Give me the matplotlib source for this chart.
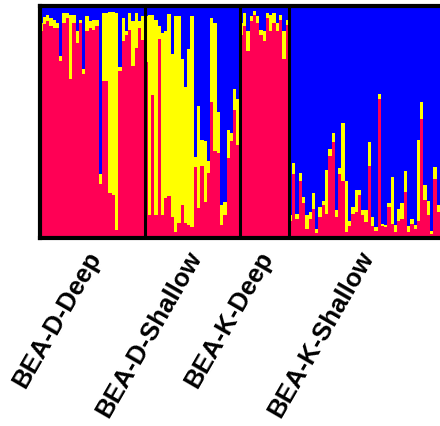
import matplotlib
matplotlib.use("Agg")
import matplotlib.pyplot as plt
import matplotlib.transforms as mtransforms
import numpy as np

plt.rcParams['font.family'] = ['Liberation Sans', 'DejaVu Sans']

# STRUCTURE ancestry proportions (%), one value per individual.
# red = 100 - blue - yellow
groups = ['BEA-D-Deep', 'BEA-D-Shallow', 'BEA-K-Deep', 'BEA-K-Shallow']

d_deep_blue = [7.5, 5.0, 4.0, 5.3, 6.2, 7.5, 21.6, 3.1, 3.1, 4.0, 4.0, 11.0, 6.2, 27.3, 4.4, 6.6,
               6.2, 6.2, 72.7, 3.1, 3.1, 2.6, 2.6, 3.1, 26.4, 5.3, 11.0, 3.1, 6.6, 3.1, 6.6, 4.4]
d_deep_yellow = [3.5, 3.0, 2.6, 3.5, 3.5, 2.2, 2.2, 4.4, 2.2, 27.8, 3.5, 5.3, 1.3, 2.2, 6.6, 3.1,
                 4.4, 2.6, 4.4, 29.5, 29.5, 78.4, 78.9, 93.8, 1.8, 10.1, 1.8, 7.5, 19.4, 15.4, 3.1, 10.6]

d_shallow_blue = [4.4, 4.0, 4.0, 6.2, 8.8, 11.9, 11.0, 3.5, 20.7, 4.4, 4.4, 22.9, 35.2, 18.9, 4.4,
                  65.2, 43.2, 58.1, 58.6, 67.0, 5.3, 7.5, 45.8, 85.9, 84.6, 53.7, 55.1, 36.1, 40.5]
d_shallow_yellow = [19.8, 86.3, 34.4, 84.1, 5.7, 78.4, 71.8, 78.4, 70.5, 93.4, 89.4, 63.0, 58.6, 75.8, 91.2,
                    4.4, 44.1, 11.0, 26.0, 5.3, 36.1, 55.1, 17.6, 8.8, 5.7, 11.9, 3.1, 8.8, 19.8]

k_deep_blue = [7.5, 3.1, 11.0, 4.4, 2.2, 4.4, 10.6, 11.0, 3.1, 4.0, 3.1, 7.5, 4.0, 11.0, 6.2]
k_deep_yellow = [5.3, 5.7, 8.4, 2.2, 1.8, 3.1, 2.2, 4.4, 2.2, 7.0, 4.4, 3.5, 2.2, 11.9, 2.2]

k_shallow_blue = [90.5, 68.0, 89.7, 72.1, 82.4, 90.4, 89.0, 80.9, 96.3, 86.8, 84.2, 71.1, 61.9, 54.8,
                  88.3, 70.2, 50.5, 75.8, 92.7, 86.8, 79.5, 79.4, 88.3, 88.3, 58.9, 91.2, 95.6, 38.0,
                  94.2, 94.6, 85.0, 73.8, 94.6, 87.9, 85.3, 71.4, 94.9, 91.9, 94.5, 57.9, 41.5, 77.5,
                  84.3, 97.0, 69.6, 86.1]
k_shallow_yellow = [2.2, 4.8, 2.2, 3.7, 2.9, 5.9, 2.9, 6.6, 1.8, 4.4, 1.8, 18.6, 2.9, 4.1,
                    2.9, 2.6, 25.3, 22.0, 2.5, 2.9, 9.5, 2.2, 2.2, 5.1, 10.3, 3.7, 1.5, 2.2,
                    0.7, 1.0, 1.8, 20.3, 2.9, 4.8, 6.6, 8.8, 2.6, 2.2, 1.8, 34.8, 7.5, 6.3,
                    6.2, 1.5, 5.0, 2.9]

RED = '#FF0055'
YELLOW = '#FFFF00'
BLUE = '#0000FF'

blue_all = [d_deep_blue, d_shallow_blue, k_deep_blue, k_shallow_blue]
yellow_all = [d_deep_yellow, d_shallow_yellow, k_deep_yellow, k_shallow_yellow]

blue = np.concatenate([np.array(b) for b in blue_all]) / 100.0
yellow = np.concatenate([np.array(y) for y in yellow_all]) / 100.0
red = 1.0 - blue - yellow
sizes = [len(b) for b in blue_all]
n = len(blue)
x = np.arange(n) + 0.5

W, H = 440, 426
fig = plt.figure(figsize=(W / 100, H / 100), dpi=100)
ax = fig.add_axes([39.5 / W, 1 - 237.5 / H, 402 / W, 232 / H])

ax.bar(x, red, width=1.0, color=RED, linewidth=0, antialiased=False)
ax.bar(x, yellow, width=1.0, bottom=red, color=YELLOW, linewidth=0, antialiased=False)
ax.bar(x, blue, width=1.0, bottom=red + yellow, color=BLUE, linewidth=0, antialiased=False)

ax.set_xlim(0, n + 0.5)
ax.set_ylim(0, 1)

edges = np.cumsum(sizes)
for e in edges[:-1]:
    ax.axvline(e, color='black', linewidth=2.2)

for s in ax.spines.values():
    s.set_linewidth(3)
ax.set_xticks([])
ax.set_yticks([])

starts = np.concatenate([[0], edges[:-1]])
centers = starts + np.array(sizes) / 2.0
trans = mtransforms.offset_copy(ax.get_xaxis_transform(), fig=fig, x=10, y=-7, units='points')
for c, g in zip(centers, groups):
    ax.text(c, 0, g, transform=trans, rotation=60, ha='right', va='top',
            fontsize=18.5, fontweight='bold')

fig.savefig('out.png', dpi=100, facecolor='white')
